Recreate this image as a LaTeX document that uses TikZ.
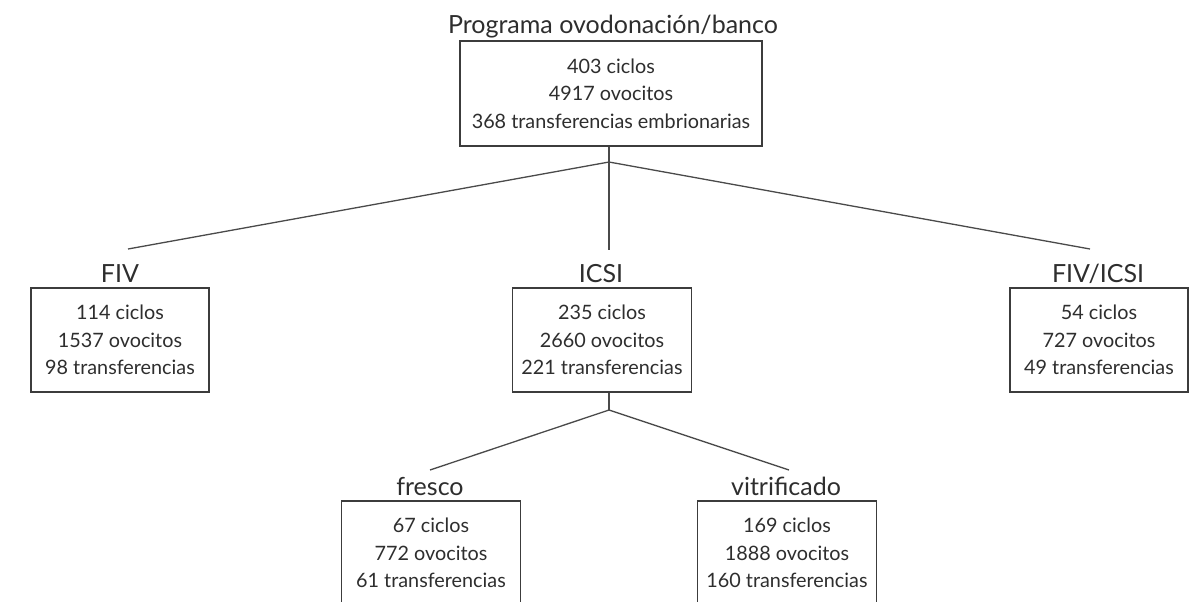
\documentclass[tikz,border=0pt]{standalone}
\usepackage{fontspec}
\setmainfont{Lato}
\definecolor{textgray}{HTML}{2E2E2E}
\definecolor{linegray}{HTML}{4A4A4A}
\definecolor{boxgray}{HTML}{3C3C3C}
\newcommand\mybodyfont{\fontsize{9.9}{13.75}\selectfont}
\newcommand\mylblfont{\fontsize{12.5}{14}\selectfont}
\begin{document}
\begin{tikzpicture}[x=0.5pt,y=-0.5pt,
  conn/.style={draw=linegray, line width=0.65pt},
  box/.style={draw=boxgray, line width=0.75pt, inner sep=0pt, align=center, font=\mybodyfont, text=textgray},
  lbl/.style={font=\mylblfont, text=textgray, anchor=base, inner sep=0pt},
  body/.style={font=\mybodyfont, text=textgray, align=center, inner sep=0pt}]
\useasboundingbox (0,0) rectangle (1199,601);
\clip (0,0) rectangle (1199,601);
\fill[white] (0,0) rectangle (1199,601);

% top
\node[lbl] (title) at (613,33) {Programa ovodonación/banco};
\node[box, minimum width=151pt, minimum height=52.5pt] (top) at (611,93.5)
  {403 ciclos\\4917 ovocitos\\368 transferencias embrionarias};

\coordinate (j1) at (609,162);
\coordinate (eL) at (128,249);
\coordinate (eM) at (609,250);
\coordinate (eR) at (1090,249);
\draw[conn] (j1 |- top.south) -- (j1);
\draw[conn] (j1) -- (eL);
\draw[conn] (j1) -- (eM);
\draw[conn] (j1) -- (eR);

% second level
\node[lbl] (fivl) at (120,282) {FIV};
\node[lbl] (icsil) at (601,282) {ICSI};
\node[lbl] (fivicsil) at (1098,282) {FIV/ICSI};

\node[box, minimum width=89pt, minimum height=52pt] (fiv) at (120,340)
  {114 ciclos\\1537 ovocitos\\98 transferencias};
\node[box, minimum width=89.5pt, minimum height=52pt] (icsi) at (602,340)
  {235 ciclos\\2660 ovocitos\\221 transferencias};
\node[box, minimum width=89pt, minimum height=52pt] (fivicsi) at (1099,340)
  {54 ciclos\\727 ovocitos\\49 transferencias};

% third level
\coordinate (j2) at (609,410);
\coordinate (eF) at (430,470);
\coordinate (eV) at (789,470);
\draw[conn] (j2 |- icsi.south) -- (j2);
\draw[conn] (j2) -- (eF);
\draw[conn] (j2) -- (eV);

\node[lbl] (frescol) at (430,495) {fresco};
\node[lbl] (vitril) at (786,495) {vitrificado};

\node[box, minimum width=89.5pt, minimum height=60pt, anchor=north] (fresc) at (431,500) {};
\node[body] (fresct) at (431,553) {67 ciclos\\772 ovocitos\\61 transferencias};
\node[box, minimum width=89.5pt, minimum height=60pt, anchor=north] (vitri) at (787,500) {};
\node[body] (vitrit) at (787,553) {169 ciclos\\1888 ovocitos\\160 transferencias};
\end{tikzpicture}
\end{document}
